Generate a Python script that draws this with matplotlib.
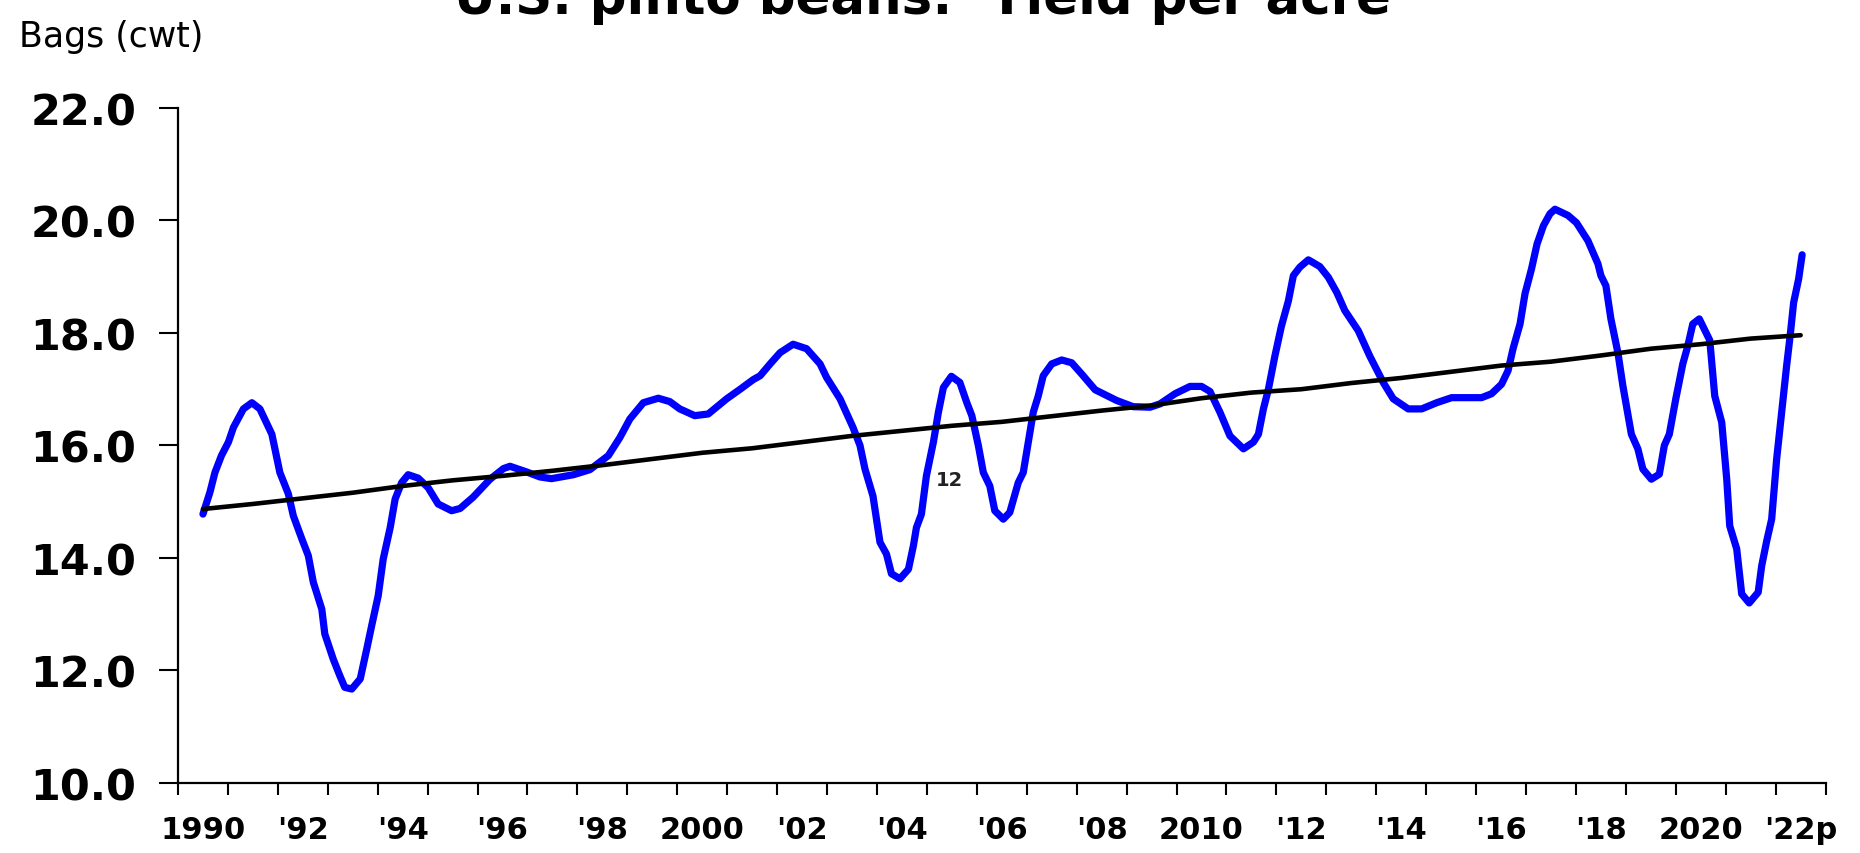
import matplotlib

matplotlib.use("Agg")
import matplotlib.pyplot as plt
import numpy as np

# Yield per acre (cwt)
curve_years = [
    1990.00, 1990.14, 1990.24, 1990.37, 1990.51, 1990.61, 1990.81, 1990.98, 1991.14, 1991.38,
    1991.54, 1991.71, 1991.81, 1991.98, 1992.11, 1992.21, 1992.38, 1992.44, 1992.61, 1992.74,
    1992.84, 1992.98, 1993.15, 1993.28, 1993.38, 1993.51, 1993.61, 1993.75, 1993.85, 1993.98,
    1994.11, 1994.31, 1994.51, 1994.71, 1994.98, 1995.15, 1995.41, 1995.75, 1996.02, 1996.15,
    1996.48, 1996.75, 1996.98, 1997.42, 1997.75, 1998.12, 1998.35, 1998.55, 1998.82, 1999.12,
    1999.35, 1999.55, 1999.85, 2000.12, 2000.49, 2000.76, 2001.02, 2001.16, 2001.36, 2001.56,
    2001.82, 2002.09, 2002.36, 2002.49, 2002.76, 2003.02, 2003.16, 2003.26, 2003.42, 2003.56,
    2003.69, 2003.79, 2003.96, 2004.13, 2004.23, 2004.29, 2004.39, 2004.49, 2004.63, 2004.73,
    2004.83, 2004.99, 2005.16, 2005.30, 2005.40, 2005.53, 2005.63, 2005.76, 2005.86, 2006.03,
    2006.16, 2006.33, 2006.43, 2006.53, 2006.63, 2006.73, 2006.83, 2007.00, 2007.20, 2007.40,
    2007.60, 2007.87, 2008.30, 2008.63, 2008.97, 2009.17, 2009.47, 2009.77, 2010.00, 2010.17,
    2010.37, 2010.57, 2010.84, 2011.04, 2011.14, 2011.24, 2011.34, 2011.47, 2011.60, 2011.74,
    2011.84, 2011.97, 2012.14, 2012.37, 2012.54, 2012.71, 2012.87, 2013.14, 2013.37, 2013.64,
    2013.84, 2014.14, 2014.41, 2014.71, 2015.01, 2015.61, 2015.81, 2016.01, 2016.14, 2016.24,
    2016.38, 2016.48, 2016.61, 2016.72, 2016.85, 2016.98, 2017.08, 2017.34, 2017.51, 2017.74,
    2017.94, 2018.00, 2018.10, 2018.20, 2018.34, 2018.44, 2018.61, 2018.74, 2018.84, 2019.01,
    2019.17, 2019.27, 2019.37, 2019.50, 2019.64, 2019.74, 2019.84, 2019.97, 2020.18, 2020.28,
    2020.42, 2020.52, 2020.58, 2020.72, 2020.82, 2020.97, 2021.15, 2021.22, 2021.32, 2021.42,
    2021.52, 2021.62, 2021.72, 2021.79, 2021.86, 2021.96, 2022.03,
]
curve_yield = [
    14.78, 15.17, 15.52, 15.82, 16.06, 16.32, 16.65, 16.76, 16.65, 16.20,
    15.52, 15.14, 14.75, 14.34, 14.04, 13.57, 13.09, 12.65, 12.20, 11.91,
    11.70, 11.67, 11.85, 12.38, 12.80, 13.33, 13.98, 14.54, 15.05, 15.34,
    15.48, 15.42, 15.25, 14.96, 14.84, 14.88, 15.08, 15.40, 15.59, 15.63,
    15.53, 15.44, 15.41, 15.48, 15.57, 15.82, 16.14, 16.47, 16.76, 16.84,
    16.78, 16.65, 16.53, 16.56, 16.83, 17.00, 17.17, 17.24, 17.45, 17.65,
    17.80, 17.72, 17.45, 17.21, 16.83, 16.32, 16.00, 15.58, 15.10, 14.28,
    14.07, 13.72, 13.63, 13.80, 14.22, 14.54, 14.78, 15.46, 16.06, 16.59,
    17.03, 17.23, 17.12, 16.76, 16.53, 16.00, 15.52, 15.28, 14.84, 14.69,
    14.81, 15.34, 15.52, 16.06, 16.59, 16.88, 17.24, 17.45, 17.52, 17.47,
    17.27, 16.99, 16.80, 16.69, 16.68, 16.74, 16.92, 17.05, 17.05, 16.96,
    16.59, 16.17, 15.94, 16.06, 16.20, 16.65, 17.00, 17.59, 18.12, 18.57,
    19.02, 19.17, 19.30, 19.18, 18.99, 18.72, 18.40, 18.04, 17.59, 17.12,
    16.83, 16.65, 16.65, 16.76, 16.85, 16.85, 16.92, 17.09, 17.33, 17.72,
    18.16, 18.70, 19.14, 19.58, 19.91, 20.12, 20.20, 20.09, 19.96, 19.64,
    19.23, 19.02, 18.84, 18.25, 17.65, 17.06, 16.20, 15.94, 15.58, 15.40,
    15.49, 16.00, 16.20, 16.83, 17.45, 17.77, 18.16, 18.25, 17.87, 16.88,
    16.41, 15.40, 14.57, 14.16, 13.36, 13.20, 13.39, 13.86, 14.30, 14.69,
    15.76, 16.59, 17.42, 17.95, 18.54, 18.96, 19.39,
]

# Trend line, one value per year
trend_years = list(range(1990, 2023))
trend_yield = [
    14.87, 14.96, 15.06, 15.16, 15.28, 15.38, 15.46, 15.55, 15.65, 15.76,
    15.87, 15.95, 16.06, 16.17, 16.26, 16.35, 16.42, 16.52, 16.62, 16.71,
    16.84, 16.94, 17.00, 17.11, 17.20, 17.31, 17.42, 17.49, 17.60, 17.72,
    17.80, 17.90, 17.96,
]

label_years = list(range(1990, 2023, 2))
label_text = [
    "1990", "'92", "'94", "'96", "'98", "2000", "'02", "'04", "'06",
    "'08", "2010", "'12", "'14", "'16", "'18", "2020", "'22p",
]
y_ticks = [10, 12, 14, 16, 18, 20, 22]

FONT = "DejaVu Sans"
plt.rcParams["font.family"] = FONT

fig = plt.figure(figsize=(18.6, 8.54), dpi=100)
fig.set_facecolor("white")
ax = fig.add_axes([0.0957, 0.082, 0.8858, 0.7904])

ax.plot(curve_years, curve_yield, color="#0000FF", lw=5.2,
        solid_joinstyle="round", solid_capstyle="round", zorder=3)
ax.plot(trend_years, trend_yield, color="black", lw=3.3,
        solid_capstyle="round", zorder=4)

ax.set_xlim(1989.5, 2022.5)
ax.set_ylim(10, 22)

# year boundaries carry the tick marks, labels sit between them
ax.set_xticks(np.arange(1989.5, 2023.0, 1.0))
ax.set_xticklabels([])
ax.set_xticks(label_years, minor=True)
ax.set_xticklabels(label_text, minor=True, fontsize=22, fontweight="bold")
ax.tick_params(axis="x", which="major", direction="out", length=8.5, width=1.5)
ax.tick_params(axis="x", which="minor", length=0, pad=23)

ax.set_yticks(y_ticks)
ax.set_yticklabels([f"{v:.1f}" for v in y_ticks], fontsize=31, fontweight="bold")
ax.tick_params(axis="y", direction="out", length=14, width=1.5, pad=16)

for spine in ["right", "top"]:
    ax.spines[spine].set_visible(False)
for spine in ["left", "bottom"]:
    ax.spines[spine].set_linewidth(1.6)

ax.text(2004.95, 15.4, "12", fontsize=14, fontweight="bold",
        ha="center", va="center", color="#222222")

fig.text(0.496, 0.984, "U.S. pinto beans:  Yield per acre", ha="center",
         va="baseline", fontsize=37, fontweight="bold")
fig.text(0.0102, 0.9453, "Bags (cwt)", ha="left", va="baseline", fontsize=25)

fig.savefig("out.png", dpi=100, facecolor=fig.get_facecolor())
